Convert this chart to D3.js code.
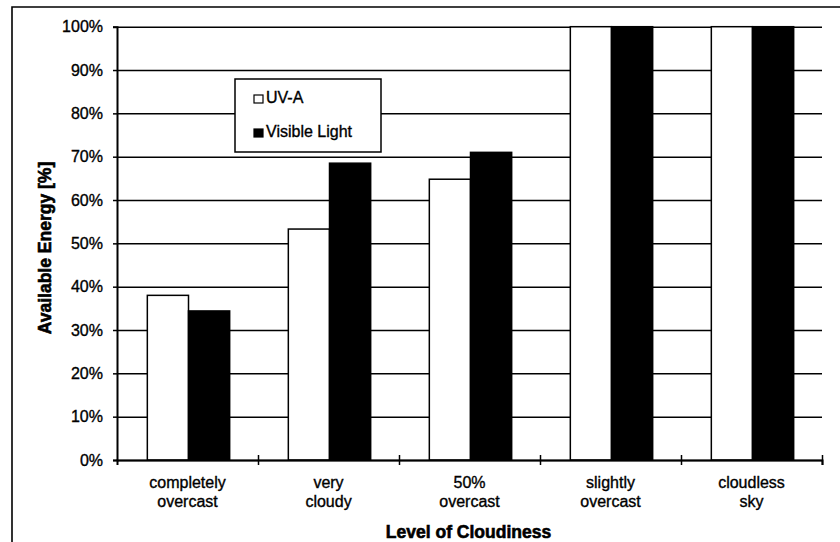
<!DOCTYPE html>
<html>
<head>
<meta charset="utf-8">
<script src="https://cdn.jsdelivr.net/npm/d3@7/dist/d3.min.js"></script>
<style>
  html, body { margin: 0; padding: 0; background: #fff; }
  svg { display: block; }
  text { font-family: "Liberation Sans", Arial, Helvetica, sans-serif; fill: #000; stroke: #000; stroke-width: 0.35px; }
  text.title { stroke-width: 0.6px; }
</style>
</head>
<body>
<svg id="chart" width="840" height="542"></svg>
<script>
// Cloudiness levels (two-line labels) and the energy share per band
const categories = ["completely overcast", "very cloudy", "50% overcast", "slightly overcast", "cloudless sky"];
const categoryLines = [["completely", "overcast"], ["very", "cloudy"], ["50%", "overcast"], ["slightly", "overcast"], ["cloudless", "sky"]];
const seriesNames = ["UV-A", "Visible Light"];
const uvA = [38, 53.3, 64.8, 100, 100];
const visibleLight = [34.4, 68.5, 71, 100, 100];
const yTicks = [0, 10, 20, 30, 40, 50, 60, 70, 80, 90, 100];
const seriesFill = ["#ffffff", "#000000"];

const svg = d3.select("#chart");
const W = 840, H = 542;
const plot = { left: 117, right: 822, top: 26.7, bottom: 460 };

svg.append("rect").attr("width", W).attr("height", H).attr("fill", "#fff");

// outer chart frame (runs off the right and bottom edges)
svg.append("path")
  .attr("d", `M12,${H + 2} L12,7 L${W + 2},7`)
  .attr("fill", "none").attr("stroke", "#000").attr("stroke-width", 1.6);

const y = d3.scaleLinear().domain([0, 100]).range([plot.bottom, plot.top]);
const x0 = d3.scaleBand().domain(categories).range([plot.left, plot.right]).padding(0);
const barW = x0.bandwidth() * 0.292;
const x1 = d3.scaleBand().domain(seriesNames).range([0, barW * 2]).padding(0);
const groupOffset = (x0.bandwidth() - barW * 2) / 2 + 1;

// horizontal gridlines
svg.append("g")
  .attr("transform", `translate(${plot.left},0)`)
  .call(d3.axisLeft(y).tickValues(yTicks).tickSize(-(plot.right - plot.left)).tickFormat(""))
  .call(g => g.select(".domain").remove())
  .call(g => g.selectAll("line").attr("stroke", "#000").attr("stroke-width", 1.5));

// bars
const rows = categories.map((c, i) => ({ cat: c, vals: [uvA[i], visibleLight[i]] }));
const groups = svg.append("g").selectAll("g").data(rows).join("g")
  .attr("transform", d => `translate(${x0(d.cat) + groupOffset},0)`);
groups.selectAll("rect")
  .data(d => d.vals.map((v, k) => ({ series: seriesNames[k], k, v })))
  .join("rect")
  .attr("x", d => x1(d.series))
  .attr("width", x1.bandwidth())
  .attr("y", d => y(d.v))
  .attr("height", d => y(0) - y(d.v))
  .attr("fill", d => seriesFill[d.k])
  .attr("stroke", "#000")
  .attr("stroke-width", 1.5);

// y axis
const yAxis = svg.append("g")
  .attr("transform", `translate(${plot.left},0)`)
  .call(d3.axisLeft(y).tickValues(yTicks).tickSize(4).tickPadding(10).tickFormat(d => d + "%"));
yAxis.select(".domain").attr("stroke", "#000").attr("stroke-width", 2);
yAxis.selectAll(".tick line").attr("stroke", "#000").attr("stroke-width", 1.5);
yAxis.selectAll(".tick text").attr("font-size", 16).attr("fill", "#000")
  .style("font-family", "'Liberation Sans', Arial, sans-serif");

// x axis with cross ticks on category boundaries
const xb = d3.scaleLinear().domain([0, categories.length]).range([plot.left, plot.right]);
const xAxis = svg.append("g")
  .attr("transform", `translate(0,${plot.bottom})`)
  .call(d3.axisBottom(xb).tickValues(d3.range(1, categories.length + 1)).tickSize(5).tickFormat(""));
xAxis.select(".domain").attr("stroke", "#000").attr("stroke-width", 2);
xAxis.selectAll(".tick line").attr("y1", -5).attr("stroke", "#000").attr("stroke-width", 1.5);

// category labels
const catLabels = svg.append("g").selectAll("text").data(categories).join("text")
  .attr("text-anchor", "middle")
  .attr("font-size", 16)
  .attr("transform", d => `translate(${x0(d) + x0.bandwidth() / 2},488)`);
catLabels.selectAll("tspan")
  .data((d, i) => categoryLines[i])
  .join("tspan")
  .attr("x", 0)
  .attr("dy", (d, j) => j === 0 ? 0 : 18.5)
  .text(d => d);

// axis titles
svg.append("text")
  .attr("class", "title")
  .attr("transform", `translate(51,248) rotate(-90)`)
  .attr("text-anchor", "middle")
  .attr("font-size", 17.5)
  .attr("font-weight", "bold")
  .text("Available Energy [%]");

svg.append("text")
  .attr("class", "title")
  .attr("x", (plot.left + plot.right) / 2 - 1)
  .attr("y", 538)
  .attr("text-anchor", "middle")
  .attr("font-size", 17.5)
  .attr("font-weight", "bold")
  .text("Level of Cloudiness");

// legend
const legend = svg.append("g").attr("transform", "translate(235,79)");
legend.append("rect")
  .attr("width", 146).attr("height", 73)
  .attr("fill", "#fff").attr("stroke", "#000").attr("stroke-width", 1.5);
const items = legend.selectAll("g.item").data(seriesNames).join("g")
  .attr("class", "item")
  .attr("transform", (d, i) => `translate(19,${24 + i * 34})`);
items.append("rect")
  .attr("x", 0).attr("y", -8).attr("width", 9).attr("height", 8)
  .attr("fill", (d, i) => seriesFill[i]).attr("stroke", "#000").attr("stroke-width", 1.2);
items.append("text")
  .attr("x", 12).attr("y", 0)
  .attr("font-size", 16)
  .text(d => d);
</script>
</body>
</html>
